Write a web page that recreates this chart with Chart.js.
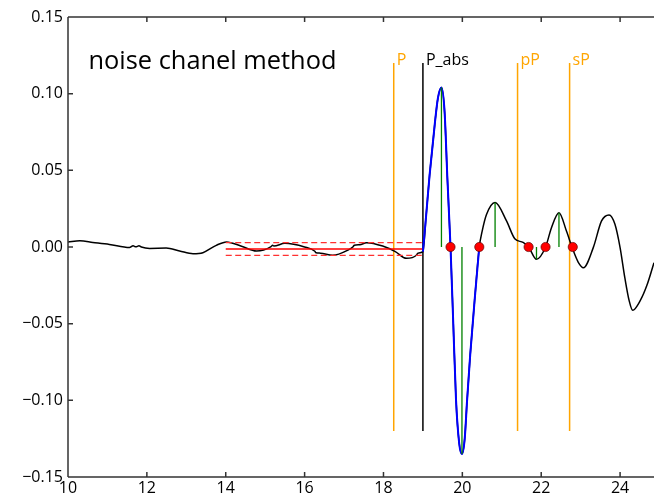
<!DOCTYPE html>
<html><head><meta charset="utf-8">
<script src="https://cdn.jsdelivr.net/npm/chart.js@4.4.0/dist/chart.umd.min.js"></script>
<style>html,body{margin:0;padding:0;background:#fff;overflow:hidden}canvas{display:block}</style>
</head><body><canvas id="c" width="654" height="499"></canvas>
<script>
// ---- data ----
const traceX = [10.0,10.3,10.63,11.05,11.56,11.65,11.72,11.8,11.86,12.07,12.49,12.83,13.17,13.42,13.76,14.02,14.4,14.78,15.15,15.19,15.22,15.5,16.0,16.26,16.29,16.4,16.71,17.1,17.23,17.26,17.4,17.57,17.98,18.3,18.58,18.84,18.87,19.0,19.08,19.17,19.30,19.38,19.47,19.55,19.62,19.70,19.77,19.84,19.92,19.99,20.06,20.12,20.20,20.32,20.43,20.50,20.61,20.83,21.12,21.33,21.54,21.68,21.88,22.11,22.26,22.45,22.64,22.80,22.94,23.07,23.32,23.53,23.72,23.87,24.0,24.12,24.23,24.32,24.51,24.68,24.86];
const traceY = [0.0033,0.0040,0.0030,0.0017,-0.0004,0.0008,0.0001,0.0008,0.0000,-0.0009,-0.0007,-0.0026,-0.0044,-0.0037,0.0011,0.0033,0.0005,-0.0026,0.0003,0.0012,0.0006,0.0024,0.0000,-0.0028,-0.0038,-0.0040,-0.0054,-0.0020,0.0002,0.0012,0.0015,0.0028,0.0006,-0.0030,-0.0074,-0.0052,-0.0040,-0.0030,0.0200,0.0470,0.0800,0.0970,0.1040,0.0880,0.0450,0.0000,-0.0500,-0.1000,-0.1280,-0.1350,-0.1250,-0.1000,-0.0700,-0.0320,0.0000,0.0100,0.0210,0.0290,0.0170,0.0054,0.0030,0.0000,-0.0080,0.0000,0.0126,0.0224,0.0104,-0.0015,-0.0100,-0.0135,-0.0004,0.0170,0.0209,0.0148,-0.0004,-0.0200,-0.0350,-0.0413,-0.0350,-0.0250,-0.0102];
const blueStart = 19.0, blueEnd = 20.43;
const stemX = [19.47, 19.99, 20.83, 21.88, 22.45];
const stemY = [0.104, -0.135, 0.029, -0.008, 0.0224];
const crossX = [19.70, 20.43, 21.68, 22.11, 22.80];
const phaseNames = ['P', 'P_abs', 'pP', 'sP'];
const phaseX = [18.26, 19.0, 21.40, 22.72];
const phaseTop = 0.12, phaseBottom = -0.12;
const noiseStart = 14, noiseEnd = 19;
const noiseMean = -0.0013, noiseUpper = 0.0028, noiseLower = -0.0054;
const xTicks = [10, 12, 14, 16, 18, 20, 22, 24];
const yTicks = [-0.15, -0.10, -0.05, 0.00, 0.05, 0.10, 0.15];
const titleText = 'noise chanel method';

// ---- build datasets ----
const trace = traceX.map((x, i) => ({x, y: traceY[i]}));
const blue = trace.filter(p => p.x >= blueStart && p.x <= blueEnd);
const stems = [];
stemX.forEach((x, i) => { stems.push({x, y: 0}, {x, y: stemY[i]}, {x, y: null}); });
const orangeLines = [], blackLines = [];
phaseX.forEach((x, i) => {
  const arr = phaseNames[i] === 'P_abs' ? blackLines : orangeLines;
  arr.push({x, y: phaseBottom}, {x, y: phaseTop}, {x, y: null});
});
const line = (v) => [{x: noiseStart, y: v}, {x: noiseEnd, y: v}];
const FONT = '"Open Sans", "DejaVu Sans", sans-serif';
const base = {showLine: true, pointRadius: 0, fill: false, spanGaps: false};

const overlay = {
  id: 'overlay',
  afterDraw(chart) {
    const {ctx, chartArea: a, scales: {x, y}} = chart;
    ctx.save();
    ctx.strokeStyle = '#333'; ctx.lineWidth = 1.5;
    ctx.beginPath();
    ctx.moveTo(a.left, a.top); ctx.lineTo(a.left, a.bottom);
    ctx.moveTo(a.left, a.bottom); ctx.lineTo(a.right + 2, a.bottom);
    ctx.moveTo(a.left, a.top); ctx.lineTo(a.right + 2, a.top);
    const tl = 5;
    xTicks.forEach(v => { const px = x.getPixelForValue(v);
      ctx.moveTo(px, a.bottom); ctx.lineTo(px, a.bottom - tl);
      ctx.moveTo(px, a.top); ctx.lineTo(px, a.top + tl); });
    yTicks.forEach(v => { const py = y.getPixelForValue(v);
      ctx.moveTo(a.left, py); ctx.lineTo(a.left + tl, py); });
    ctx.stroke();
    ctx.font = '16px ' + FONT; ctx.textBaseline = 'alphabetic'; ctx.textAlign = 'left';
    phaseX.forEach((v, i) => {
      ctx.fillStyle = phaseNames[i] === 'P_abs' ? '#000' : '#ffa500';
      ctx.fillText(phaseNames[i], x.getPixelForValue(v) + 3, y.getPixelForValue(phaseTop) + 2);
    });
    let fs = 26; ctx.font = fs + 'px ' + FONT;
    fs = fs * 248 / ctx.measureText(titleText).width;
    ctx.font = fs.toFixed(2) + 'px ' + FONT; ctx.fillStyle = '#000';
    ctx.fillText(titleText, 88.5, 68.5);
    ctx.restore();
  }
};

new Chart(document.getElementById('c'), {
  type: 'scatter',
  data: {datasets: [
    {...base, showLine: false, data: crossX.map(v => ({x: v, y: 0})), pointRadius: 4.6,
      pointBackgroundColor: '#ff0000', pointBorderColor: '#600000', pointBorderWidth: 0.7},
    {...base, data: stems, borderColor: '#008000', borderWidth: 1.3},
    {...base, data: blue, borderColor: '#0000ff', borderWidth: 2, cubicInterpolationMode: 'monotone'},
    {...base, data: line(noiseMean), borderColor: '#ff0000', borderWidth: 1.3},
    {...base, data: line(noiseUpper), borderColor: '#ff3030', borderWidth: 1.3, borderDash: [6, 3.5]},
    {...base, data: line(noiseLower), borderColor: '#ff3030', borderWidth: 1.3, borderDash: [6, 3.5]},
    {...base, data: trace, borderColor: '#000', borderWidth: 1.5, cubicInterpolationMode: 'monotone'},
    {...base, data: blackLines, borderColor: '#000', borderWidth: 1.5},
    {...base, data: orangeLines, borderColor: '#ffa500', borderWidth: 1.5},
  ]},
  options: {
    responsive: false, animation: false, events: [],
    layout: {autoPadding: false, padding: {top: 17, right: 0, left: 0, bottom: 0}},
    plugins: {legend: {display: false}, tooltip: {enabled: false}},
    scales: {
      x: {type: 'linear', min: 10, max: 24.86,
        afterBuildTicks: s => { s.ticks = xTicks.map(v => ({value: v})); },
        afterFit: s => { s.height = 22; s.paddingLeft = 0; s.paddingRight = 0; },
        grid: {display: false, drawTicks: false}, border: {display: false},
        ticks: {padding: 2, color: '#000', font: {family: FONT, size: 16}, callback: v => String(v)}},
      y: {type: 'linear', min: -0.15, max: 0.15,
        afterBuildTicks: s => { s.ticks = yTicks.map(v => ({value: v})); },
        afterFit: s => { s.width = 68; s.paddingTop = 0; s.paddingBottom = 0; },
        grid: {display: false, drawTicks: false}, border: {display: false},
        ticks: {padding: 5, color: '#000', font: {family: FONT, size: 16},
          callback: v => (v < -1e-9 ? '\u2212' : '') + Math.abs(v).toFixed(2)}}
    }
  },
  plugins: [overlay]
});
</script></body></html>
